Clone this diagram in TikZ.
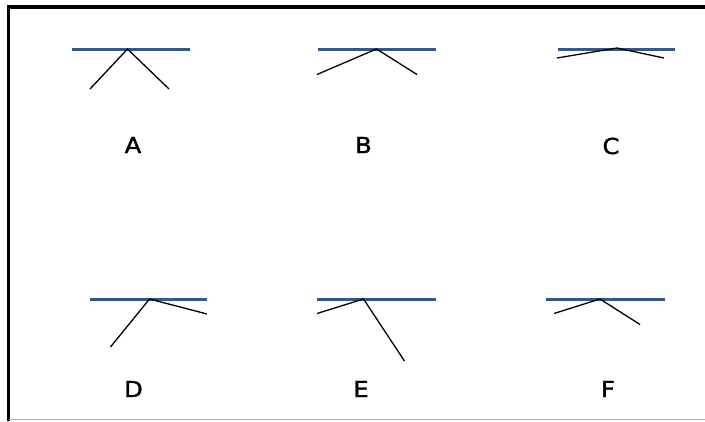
\documentclass[tikz,border=0pt]{standalone}
\usepackage{fontspec}
\setmainfont{DejaVu Sans}
\newfontfamily\lblfont[BoldFont={DejaVu Sans},BoldFeatures={FakeBold=1.5}]{DejaVu Sans}
\begin{document}
\begin{tikzpicture}[x=1pt,y=-1pt,
  surface/.style={draw=surfblue,line width=3pt},
  ray/.style={draw=black,line width=1.3pt},
  frame/.style={draw=black,line width=3.5pt},
  lbl/.style={font=\lblfont\bfseries\fontsize{22}{24}\selectfont,inner sep=0pt,xscale=1.1}]
\definecolor{surfblue}{HTML}{2F5A8E}
\useasboundingbox (0,0) rectangle (705,421);
\fill[white] (0,0) rectangle (705,421);
% frame
\coordinate (fl) at (8.5,421);
\coordinate (fc) at (8.5,7);
\coordinate (fr) at (705,7);
\draw[frame] (fl) -- (fc) -- (fr);
\coordinate (bl) at (8.5,419.5);
\coordinate (br) at (705,419.5);
\draw[draw=black!30,line width=1pt] (bl) -- (br);
% A
\coordinate (A1) at (72,49); \coordinate (A2) at (190,49);
\coordinate (Ap) at (127.5,49); \coordinate (Al) at (90,89); \coordinate (Ar) at (169,89);
\draw[surface] (A1) -- (A2);
\draw[ray] (Al) -- (Ap) -- (Ar);
\node[lbl] (LA) at (133,145) {A};
% B
\coordinate (B1) at (318,49); \coordinate (B2) at (435.5,49);
\coordinate (Bp) at (376.5,49); \coordinate (Bl) at (317,74.5); \coordinate (Br) at (417,74.5);
\draw[surface] (B1) -- (B2);
\draw[ray] (Bl) -- (Bp) -- (Br);
\node[lbl] (LB) at (363.5,145) {B};
% C
\coordinate (C1) at (558,49); \coordinate (C2) at (675,49);
\coordinate (Cp) at (617,48); \coordinate (Cl) at (557,58); \coordinate (Cr) at (664,58);
\draw[surface] (C1) -- (C2);
\draw[ray] (Cl) -- (Cp) -- (Cr);
\node[lbl] (LC) at (611,146) {C};
% D
\coordinate (D1) at (90,299); \coordinate (D2) at (207,299);
\coordinate (Dp) at (149.5,299); \coordinate (Dl) at (110.5,347); \coordinate (Dr) at (207,314);
\draw[surface] (D1) -- (D2);
\draw[ray] (Dl) -- (Dp) -- (Dr);
\node[lbl] (LD) at (133.5,389) {D};
% E
\coordinate (E1) at (317,299); \coordinate (E2) at (435.5,299);
\coordinate (Ep) at (363.5,299); \coordinate (El) at (317,313.5); \coordinate (Er) at (404.5,361);
\draw[surface] (E1) -- (E2);
\draw[ray] (El) -- (Ep) -- (Er);
\node[lbl] (LE) at (361,389) {E};
% F
\coordinate (F1) at (546,299); \coordinate (F2) at (664.5,299);
\coordinate (Fp) at (600,299); \coordinate (Fl) at (554,313.5); \coordinate (Fr) at (640,324.5);
\draw[surface] (F1) -- (F2);
\draw[ray] (Fl) -- (Fp) -- (Fr);
\node[lbl] (LF) at (608,389) {F};
\end{tikzpicture}
\end{document}
